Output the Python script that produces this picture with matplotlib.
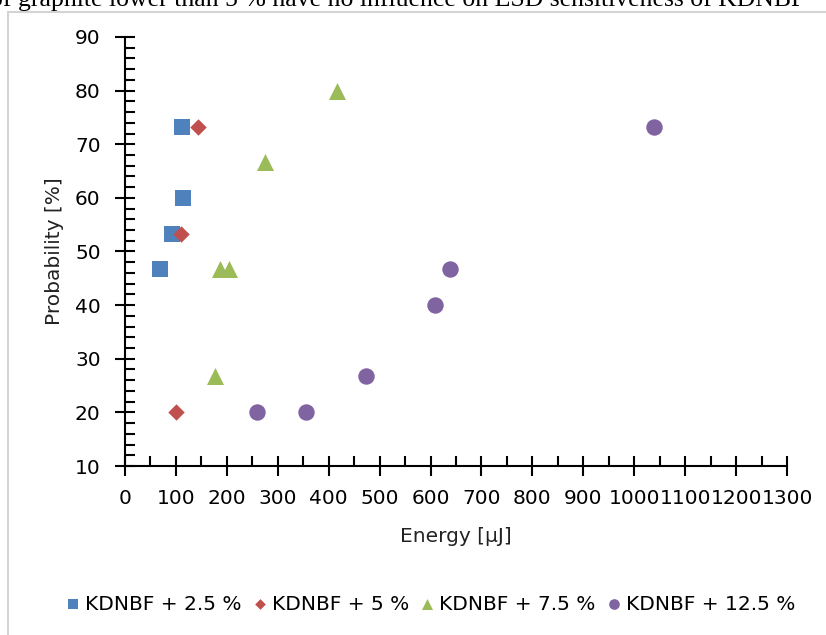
import matplotlib.pyplot as plt
from matplotlib.ticker import MultipleLocator
from matplotlib.patches import Rectangle

plt.rcParams['font.family'] = ['DejaVu Sans']

# energy [uJ] and probability [%] for each graphite content
labels = ['KDNBF + 2.5 %', 'KDNBF + 5 %', 'KDNBF + 7.5 %', 'KDNBF + 12.5 %']
x_25 = [68, 93, 113, 112]
y_25 = [46.7, 53.3, 60, 73.3]
x_5 = [100, 110, 143]
y_5 = [20, 53.3, 73.3]
x_75 = [177, 187, 204, 274, 417]
y_75 = [26.7, 46.7, 46.7, 66.7, 80]
x_125 = [260, 356, 474, 608, 639, 1038]
y_125 = [20, 20, 26.7, 40, 46.7, 73.3]

colors = ['#4f81bd', '#c0504d', '#9bbb59', '#8064a2']
markers = ['s', 'D', '^', 'o']
sizes = [130, 70, 150, 140]

fs = 14.5

fig = plt.figure(figsize=(8.26, 6.35), dpi=100)
ax = fig.add_axes([125/826, 1-466/635, (787-125)/826, (466-37)/635])

# page border and cut-off caption from the source document
fig.patches.append(Rectangle((8/826, -0.1), 1.2, 1-12/635+0.1, transform=fig.transFigure,
                             fill=False, edgecolor='#d4d4d4', linewidth=1.5))
fig.text(-0.012, 1-6/635, 'of graphite lower than 5 % have no influence on ESD sensitiveness of KDNBF',
         family='Liberation Serif', fontsize=18.5, va='baseline', ha='left')

series = [(x_25, y_25), (x_5, y_5), (x_75, y_75), (x_125, y_125)]
for (xs, ys), lab, c, m, s in zip(series, labels, colors, markers, sizes):
    ax.scatter(xs, ys, s=s, c=c, marker=m, label=lab, linewidths=0, zorder=3)

ax.set_xlim(0, 1300)
ax.set_ylim(10, 90)
ax.xaxis.set_major_locator(MultipleLocator(100))
ax.xaxis.set_minor_locator(MultipleLocator(50))
ax.yaxis.set_major_locator(MultipleLocator(10))
ax.yaxis.set_minor_locator(MultipleLocator(2))

for sp in ['top', 'right']:
    ax.spines[sp].set_visible(False)
for sp in ['left', 'bottom']:
    ax.spines[sp].set_linewidth(1.5)

ax.tick_params(which='major', direction='inout', length=15, width=1.5, labelsize=fs, colors='black')
ax.tick_params(which='minor', direction='in', length=7, width=1.5)
ax.tick_params(axis='x', which='major', pad=9)
ax.tick_params(axis='y', which='major', pad=10)

ax.set_xlabel('Energy [µJ]', fontsize=fs, labelpad=14, color='#222222')
ax.set_ylabel('Probability [%]', fontsize=fs, labelpad=8, color='#222222')

leg = fig.legend(loc='center', bbox_to_anchor=(428/826, 1-604/635), ncol=4, frameon=False,
                 fontsize=fs, handletextpad=0.0, columnspacing=0.3, markerscale=0.65,
                 handlelength=1.2)

fig.savefig('out.png', dpi=100)
